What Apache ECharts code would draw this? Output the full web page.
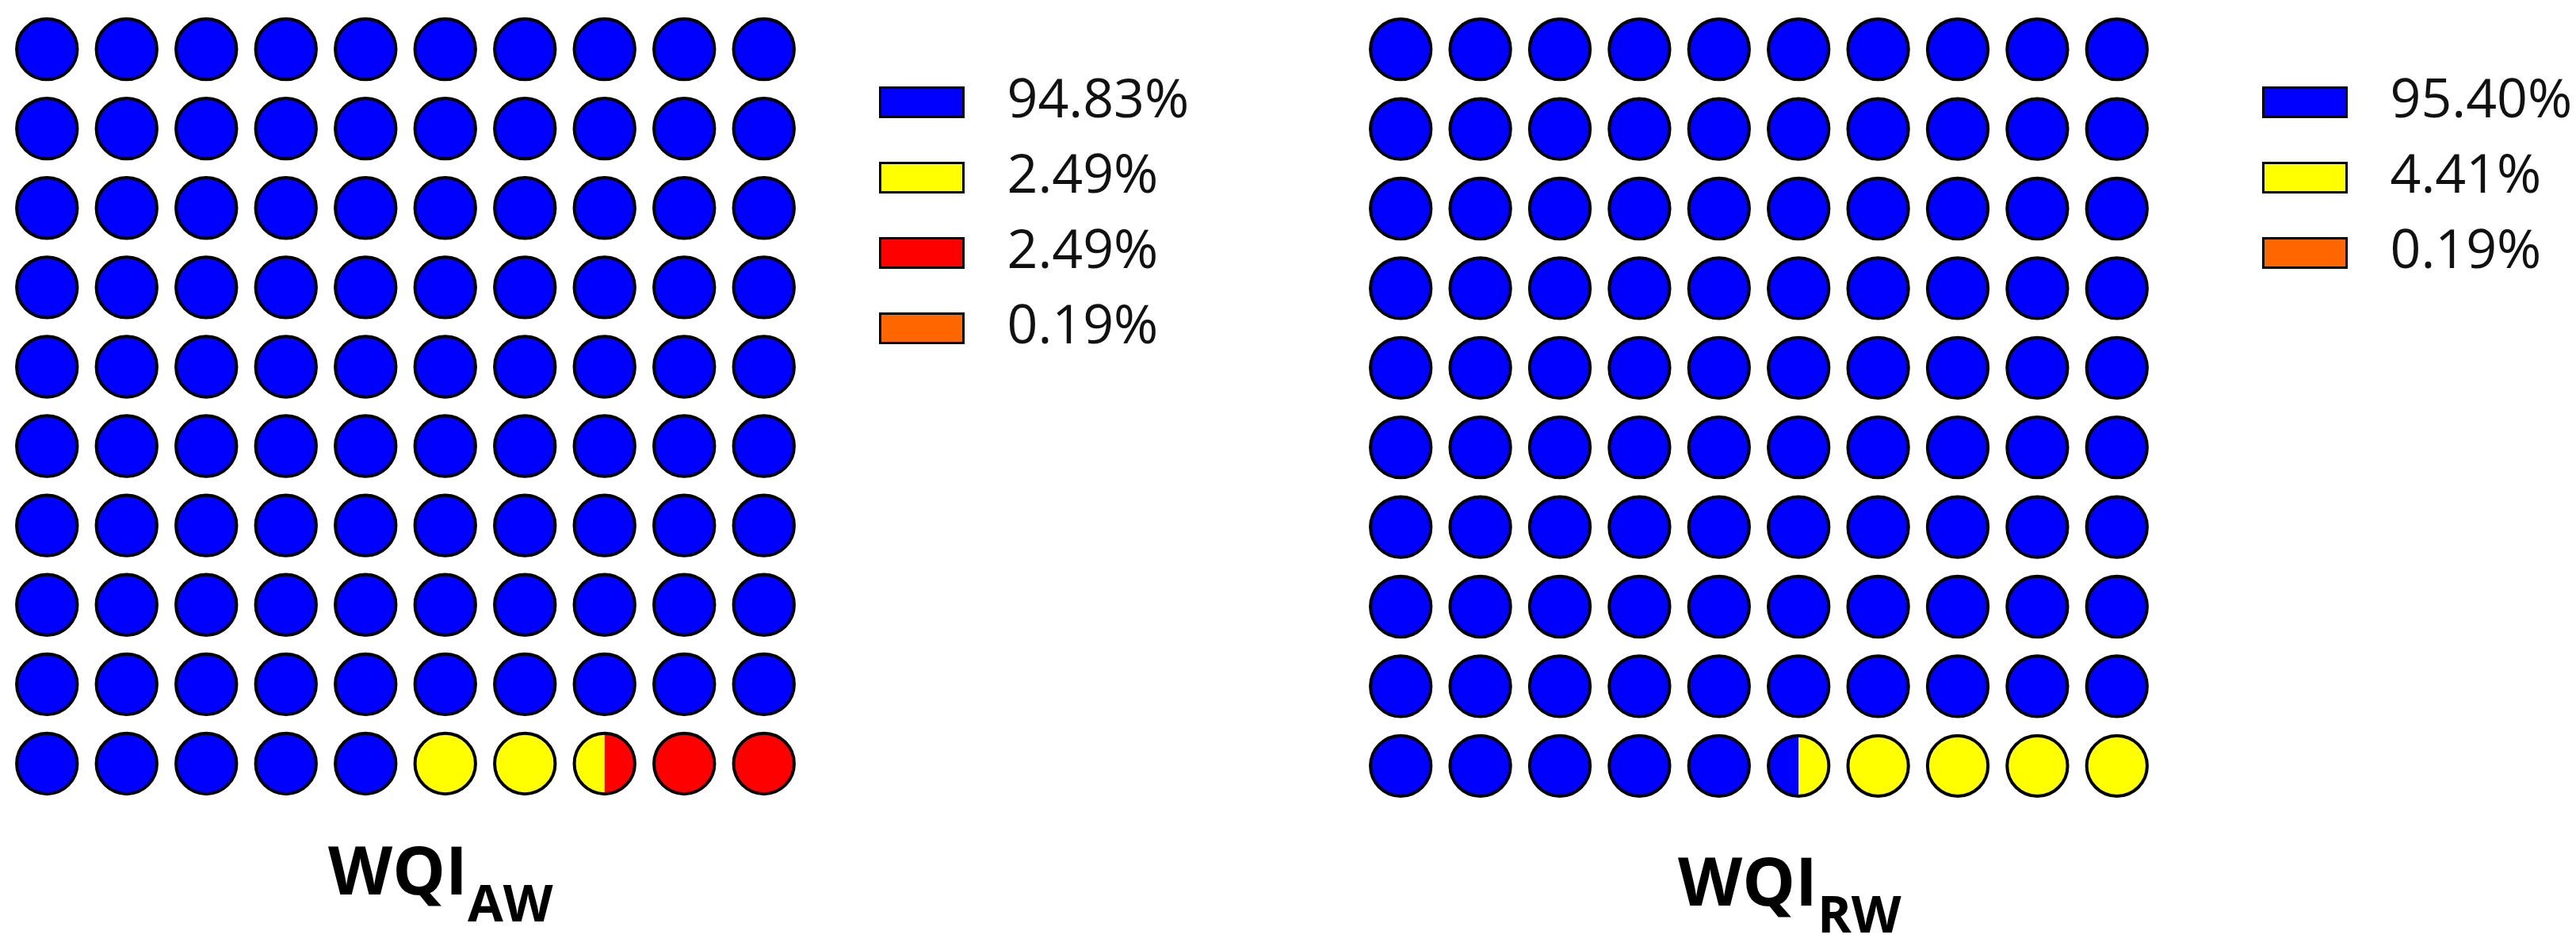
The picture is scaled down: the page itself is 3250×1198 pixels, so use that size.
<!DOCTYPE html>
<html>
<head>
<meta charset="utf-8">
<script src="https://cdn.jsdelivr.net/npm/echarts@6/dist/echarts.min.js"></script>
<style>
  html, body { margin: 0; padding: 0; background: #fff; }
  #chart { width: 3250px; height: 1198px; }
</style>
</head>
<body>
<div id="chart"></div>
<script>
// 10 x 10 waffle, each cell split into two halves (left / right)
const gridSize = 10;

// WQI_AW
const awKeys = ['aw0', 'aw1', 'aw2', 'aw3'];
const awLabels = ['94.83%', '2.49%', '2.49%', '0.19%'];
const awColors = ['#0000ff', '#ffff00', '#ff0000', '#ff6600'];
const awHalfCells = [190, 5, 5, 0];

// WQI_RW
const rwKeys = ['rw0', 'rw1', 'rw2'];
const rwLabels = ['95.40%', '4.41%', '0.19%'];
const rwColors = ['#0000ff', '#ffff00', '#ff6600'];
const rwHalfCells = [191, 9, 0];

const FONT = '"Open Sans", "Noto Sans", sans-serif';

// turn half-cell counts into [col, row, side] items per category (side: 0 left, 1 right, 2 whole)
function buildCells(halfCounts) {
  const out = [];
  let h = 0;
  halfCounts.forEach(n => {
    const byCell = {};
    for (let k = 0; k < n; k++, h++) {
      const cell = Math.floor(h / 2);
      (byCell[cell] = byCell[cell] || []).push(h % 2);
    }
    const items = Object.keys(byCell).map(c => {
      const cell = +c;
      const sides = byCell[c];
      return [cell % gridSize, Math.floor(cell / gridSize), sides.length === 2 ? 2 : sides[0]];
    });
    out.push(items);
  });
  return out;
}

function allCells() {
  const cells = [];
  for (let r = 0; r < gridSize; r++)
    for (let c = 0; c < gridSize; c++) cells.push([c, r]);
  return cells;
}

function renderFill(params, api) {
  const p = api.coord([api.value(0), api.value(1)]);
  const r = api.size([1, 0])[0] * 0.38;
  const side = api.value(2);
  const fill = api.visual('color');
  if (side === 2) {
    return { type: 'circle', shape: { cx: p[0], cy: p[1], r: r }, style: { fill: fill } };
  }
  return {
    type: 'sector',
    shape: {
      cx: p[0], cy: p[1], r0: 0, r: r,
      startAngle: side === 0 ? Math.PI / 2 : -Math.PI / 2,
      endAngle: side === 0 ? Math.PI * 1.5 : Math.PI / 2,
      clockwise: true
    },
    style: { fill: fill }
  };
}

function renderOutline(params, api) {
  const p = api.coord([api.value(0), api.value(1)]);
  const r = api.size([1, 0])[0] * 0.38;
  return {
    type: 'circle',
    shape: { cx: p[0], cy: p[1], r: r },
    style: { fill: null, stroke: '#000', lineWidth: 4 }
  };
}

const awCells = buildCells(awHalfCells);
const rwCells = buildCells(rwHalfCells);

const labelMap = {};
awKeys.forEach((k, i) => labelMap[k] = awLabels[i]);
rwKeys.forEach((k, i) => labelMap[k] = rwLabels[i]);

function fillSeries(keys, colors, cells, idx) {
  return keys.map((k, i) => ({
    name: k, type: 'custom', coordinateSystem: 'cartesian2d',
    xAxisIndex: idx, yAxisIndex: idx,
    itemStyle: { color: colors[i] },
    renderItem: renderFill,
    data: cells[i], z: 2, silent: true
  }));
}

function legendOf(keys, left) {
  return {
    orient: 'vertical', left: left, top: 90,
    data: keys, icon: 'rect', itemWidth: 105, itemHeight: 37, itemGap: 27,
    selectedMode: false,
    itemStyle: { borderColor: '#000', borderWidth: 3 },
    formatter: n => labelMap[n],
    textStyle: { fontSize: 68, lineHeight: 68, color: '#111', fontFamily: FONT, padding: [0, 0, 0, 50] }
  };
}

function titleOf(sub, left, top) {
  return {
    text: '{a|WQI}{b|' + sub + '}', left: left, top: top, padding: 0,
    textStyle: {
      rich: {
        a: { fontSize: 84, fontWeight: 'bold', fontFamily: FONT, color: '#000', lineHeight: 84, verticalAlign: 'top' },
        b: { fontSize: 65, fontWeight: 'bold', fontFamily: FONT, color: '#000', lineHeight: 65, verticalAlign: 'top', padding: [49, 0, 0, 0] }
      }
    }
  };
}

const axisX = idx => ({ type: 'value', gridIndex: idx, min: -0.5, max: gridSize - 0.5, show: false });
const axisY = idx => ({ type: 'value', gridIndex: idx, min: -0.5, max: gridSize - 0.5, inverse: true, show: false });

const chart = echarts.init(document.getElementById('chart'));
chart.setOption({
  backgroundColor: '#fff',
  animation: false,
  title: [titleOf('AW', 414, 1062), titleOf('RW', 2117, 1076)],
  legend: [legendOf(awKeys, 1104), legendOf(rwKeys, 2849)],
  grid: [
    { left: 9, top: 12, width: 1005, height: 1001 },
    { left: 1717, top: 12, width: 1004, height: 1004 }
  ],
  xAxis: [axisX(0), axisX(1)],
  yAxis: [axisY(0), axisY(1)],
  series: [
    ...fillSeries(awKeys, awColors, awCells, 0),
    ...fillSeries(rwKeys, rwColors, rwCells, 1),
    { name: 'outlineAW', type: 'custom', xAxisIndex: 0, yAxisIndex: 0, renderItem: renderOutline, data: allCells(), z: 3, silent: true },
    { name: 'outlineRW', type: 'custom', xAxisIndex: 1, yAxisIndex: 1, renderItem: renderOutline, data: allCells(), z: 3, silent: true }
  ]
});
</script>
</body>
</html>
